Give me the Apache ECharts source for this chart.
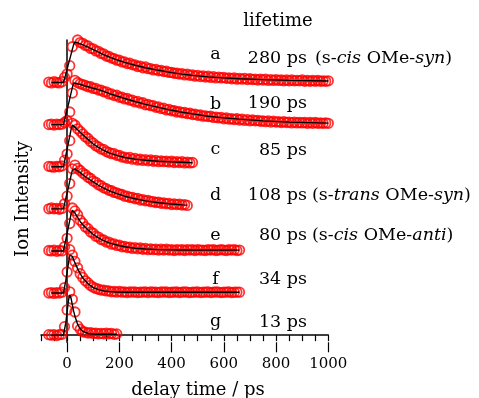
<!DOCTYPE html>
<html>
<head>
<meta charset="utf-8">
<script src="https://cdn.jsdelivr.net/npm/echarts@6/dist/echarts.min.js"></script>
<style>
  html, body { margin: 0; padding: 0; background: #fff; }
  #chart { width: 479px; height: 398px; }
</style>
</head>
<body>
<div id="chart"></div>
<script>
// delay times of the measured points (ps)
const T = [-70, -60, -50, -40, -30, -20, -10, 0, 10, 20,
  30, 40, 50, 60, 70, 80, 90, 100, 110, 120,
  130, 140, 150, 160, 170, 180, 190, 200, 210, 220,
  230, 240, 250, 260, 270, 280, 290, 300, 310, 320,
  330, 340, 350, 360, 370, 380, 390, 400, 410, 420,
  430, 440, 450, 460, 470, 480, 490, 500, 510, 520,
  530, 540, 550, 560, 570, 580, 590, 600, 610, 620,
  630, 640, 650, 660, 670, 680, 690, 700, 710, 720,
  730, 740, 750, 760, 770, 780, 790, 800, 810, 820,
  830, 840, 850, 860, 870, 880, 890, 900, 910, 920,
  930, 940, 950, 960, 970, 980, 990, 1000];

// delay times of the fit curves (ps)
const FT = [-60, -14, -5, 0, 5, 10, 15, 20, 25, 30, 40, 50, 60, 80, 100, 120, 140, 160,
  190, 220, 260, 300, 350, 400, 440, 460, 480, 540, 600, 660, 750, 850, 1000];

// normalized ion intensity, traces a..g
const dataA = [0.01, -0.01, 0.02, 0, -0.01, 0.02, 0.12, 0.2, 0.4, 0.85,
  1.04, 1.01, 0.95, 0.93, 0.88, 0.87, 0.81, 0.8, 0.75, 0.74,
  0.69, 0.68, 0.63, 0.62, 0.58, 0.57, 0.53, 0.53, 0.49, 0.49,
  0.45, 0.46, 0.42, 0.42, 0.38, 0.39, 0.35, 0.37, 0.33, 0.33,
  0.3, 0.31, 0.28, 0.29, 0.26, 0.27, 0.24, 0.24, 0.22, 0.22,
  0.2, 0.21, 0.18, 0.2, 0.17, 0.18, 0.15, 0.17, 0.14, 0.16,
  0.13, 0.15, 0.12, 0.14, 0.11, 0.13, 0.11, 0.12, 0.1, 0.11,
  0.09, 0.11, 0.08, 0.1, 0.08, 0.1, 0.07, 0.09, 0.07, 0.08,
  0.06, 0.08, 0.06, 0.08, 0.05, 0.07, 0.05, 0.07, 0.05, 0.06,
  0.04, 0.06, 0.04, 0.06, 0.04, 0.05, 0.04, 0.06, 0.03, 0.05,
  0.03, 0.05, 0.03, 0.05, 0.03, 0.04, 0.03, 0.04];
const dataB = [0, 0.01, -0.01, 0.01, 0, 0.01, 0.05, 0.1, 0.3, 0.75,
  1.05, 1.0, 0.97, 0.95, 0.93, 0.9, 0.9, 0.86, 0.86, 0.82,
  0.82, 0.78, 0.78, 0.73, 0.73, 0.69, 0.7, 0.65, 0.65, 0.61,
  0.62, 0.58, 0.58, 0.54, 0.55, 0.51, 0.52, 0.47, 0.48, 0.45,
  0.45, 0.41, 0.42, 0.38, 0.39, 0.35, 0.36, 0.33, 0.33, 0.3,
  0.31, 0.28, 0.29, 0.26, 0.27, 0.24, 0.25, 0.22, 0.23, 0.2,
  0.21, 0.19, 0.2, 0.17, 0.18, 0.16, 0.17, 0.14, 0.16, 0.13,
  0.14, 0.12, 0.14, 0.11, 0.13, 0.1, 0.12, 0.09, 0.11, 0.09,
  0.1, 0.08, 0.09, 0.07, 0.09, 0.06, 0.08, 0.06, 0.07, 0.05,
  0.07, 0.05, 0.06, 0.04, 0.06, 0.04, 0.05, 0.04, 0.05, 0.03,
  0.05, 0.03, 0.05, 0.03, 0.04, 0.03, 0.04, 0.03];
const dataC = [0.01, 0, -0.01, 0.01, 0, 0.02, 0.15, 0.3, 0.62, 1.03,
  0.99, 0.9, 0.84, 0.78, 0.71, 0.67, 0.6, 0.56, 0.5, 0.47,
  0.42, 0.41, 0.36, 0.34, 0.31, 0.31, 0.27, 0.27, 0.23, 0.23,
  0.2, 0.22, 0.18, 0.2, 0.16, 0.18, 0.15, 0.17, 0.14, 0.16,
  0.13, 0.15, 0.12, 0.14, 0.12, 0.13, 0.11, 0.13, 0.1, 0.12,
  0.1, 0.12, 0.09, 0.11, 0.09, 0.1];
const dataD = [0, 0.02, 0, 0.01, -0.01, 0.01, 0.12, 0.3, 0.6, 0.95,
  1.04, 0.96, 0.91, 0.85, 0.81, 0.75, 0.72, 0.66, 0.63, 0.57,
  0.55, 0.5, 0.48, 0.44, 0.43, 0.39, 0.38, 0.35, 0.34, 0.3,
  0.3, 0.27, 0.27, 0.24, 0.25, 0.21, 0.22, 0.19, 0.2, 0.17,
  0.17, 0.15, 0.16, 0.13, 0.14, 0.12, 0.13, 0.1, 0.12, 0.1,
  0.11, 0.09, 0.1, 0.08];
const dataE = [0.01, 0, 0.02, -0.01, 0.01, 0, 0.1, 0.3, 0.65, 1.02,
  0.95, 0.86, 0.73, 0.66, 0.57, 0.53, 0.45, 0.42, 0.35, 0.33,
  0.27, 0.26, 0.21, 0.21, 0.16, 0.17, 0.13, 0.14, 0.1, 0.11,
  0.08, 0.09, 0.06, 0.08, 0.05, 0.07, 0.04, 0.06, 0.03, 0.05,
  0.03, 0.04, 0.02, 0.04, 0.02, 0.04, 0.02, 0.03, 0.01, 0.03,
  0.02, 0.03, 0.01, 0.03, 0.02, 0.03, 0.01, 0.03, 0.02, 0.02,
  0.01, 0.03, 0.02, 0.03, 0.01, 0.02, 0.03, 0.02, 0.01, 0.03,
  0.02, 0.03, 0.01, 0.02];
const dataF = [0, 0.01, -0.01, 0.01, 0, 0.02, 0.13, 0.5, 1.03, 0.9,
  0.75, 0.6, 0.46, 0.37, 0.29, 0.24, 0.18, 0.14, 0.11, 0.09,
  0.07, 0.07, 0.05, 0.05, 0.03, 0.04, 0.02, 0.04, 0.02, 0.03,
  0.01, 0.03, 0.02, 0.03, 0.01, 0.02, 0.02, 0.03, 0.01, 0.03,
  0.02, 0.02, 0.01, 0.03, 0.02, 0.03, 0.01, 0.02, 0.02, 0.03,
  0.01, 0.02, 0.03, 0.02, 0.01, 0.02, 0.02, 0.03, 0.01, 0.02,
  0.02, 0.03, 0.01, 0.02, 0.03, 0.02, 0.01, 0.02, 0.02, 0.03,
  0.01, 0.02, 0.02, 0.02];
const dataG = [0.01, 0, 0.01, -0.01, 0.01, 0.02, 0.2, 0.6, 1.03, 0.85,
  0.55, 0.22, 0.14, 0.08, 0.07, 0.05, 0.06, 0.04, 0.05, 0.03,
  0.04, 0.03, 0.05, 0.03, 0.04, 0.02, 0.03];

// fit curves (values at FT)
const fitA = [0, 0, 0.2, 0.32, 0.44, 0.55, 0.67, 0.79, 0.9, 0.96, 0.945, 0.92, 0.895, 0.84, 0.78, 0.72,
  0.66, 0.61, 0.54, 0.48, 0.41, 0.35, 0.29, 0.235, 0.2, 0.185, 0.17, 0.135, 0.11, 0.09, 0.07, 0.051, 0.036];
const fitB = [0, 0, 0.23, 0.36, 0.48, 0.62, 0.75, 0.88, 0.99, 0.985, 0.97, 0.955, 0.935, 0.9, 0.865, 0.83,
  0.79, 0.74, 0.68, 0.62, 0.55, 0.48, 0.41, 0.34, 0.295, 0.275, 0.255, 0.2, 0.16, 0.13, 0.09, 0.06, 0.035];
const fitC = [0, 0, 0.27, 0.42, 0.57, 0.72, 0.88, 0.99, 0.97, 0.94, 0.88, 0.82, 0.76, 0.65, 0.54, 0.46,
  0.39, 0.33, 0.27, 0.22, 0.18, 0.155, 0.13, 0.115, 0.105, 0.1, 0.095];
const fitD = [0, 0, 0.25, 0.38, 0.51, 0.65, 0.79, 0.92, 0.96, 0.95, 0.9, 0.86, 0.81, 0.72, 0.64, 0.56,
  0.49, 0.43, 0.36, 0.3, 0.24, 0.19, 0.145, 0.115, 0.095, 0.088];
const fitE = [0, 0, 0.27, 0.42, 0.57, 0.72, 0.87, 0.97, 0.95, 0.9, 0.8, 0.7, 0.62, 0.5, 0.39, 0.31,
  0.245, 0.19, 0.14, 0.1, 0.065, 0.045, 0.032, 0.025, 0.022, 0.021, 0.02, 0.02, 0.02, 0.02];
const fitF = [0, 0, 0.3, 0.5, 0.7, 0.9, 0.93, 0.87, 0.79, 0.72, 0.58, 0.46, 0.36, 0.22, 0.13, 0.08,
  0.05, 0.035, 0.025, 0.02, 0.02, 0.02, 0.02, 0.02, 0.02, 0.02, 0.02, 0.02, 0.02, 0.02];
const fitG = [0, 0, 0.3, 0.55, 0.82, 0.95, 0.88, 0.72, 0.57, 0.45, 0.26, 0.15, 0.09, 0.04, 0.025, 0.02,
  0.02, 0.02, 0.02];

const traceLabels = ['a', 'b', 'c', 'd', 'e', 'f', 'g'];
const lifetimes = ['280 ps', '190 ps', '85 ps', '108 ps', '80 ps', '34 ps', '13 ps'];
// conformer notes: [prefix, italic, middle, italic]
const notes = [['s-', 'cis', ' OMe-', 'syn'], null, null, ['s-', 'trans', ' OMe-', 'syn'],
  ['s-', 'cis', ' OMe-', 'anti'], null, null];
const xLabels = [0, 200, 400, 600, 800, 1000];

const measured = [dataA, dataB, dataC, dataD, dataE, dataF, dataG];
const fits = [fitA, fitB, fitC, fitD, fitE, fitF, fitG];

const FONT = 'DejaVu Serif';
const LBL = '17.5px "DejaVu Serif"';
const NAME = '18px "DejaVu Serif"';
const chart = echarts.init(document.getElementById('chart'));

const series = [];
measured.forEach((vals, i) => {
  const off = 6 - i;
  series.push({
    type: 'scatter',
    data: vals.map((v, k) => [T[k], v + off]),
    symbol: 'circle',
    symbolSize: 9.5,
    itemStyle: { color: 'rgba(0,0,0,0)', borderColor: '#ff0000', borderWidth: 1.8 },
    silent: true,
    z: 2
  });
  series.push({
    type: 'line',
    data: fits[i].map((v, k) => [FT[k], v + off]),
    showSymbol: false,
    lineStyle: { color: '#000', width: 1.4 },
    silent: true,
    z: 3
  });
});

// text labels on the right
const letterY = [54, 104, 149.5, 195.5, 235.5, 279, 321];
const textY = [58.5, 103, 150, 195.5, 235.5, 279, 322];
const graphic = [
  { type: 'text', x: 278, y: 21, style: { text: 'lifetime', font: NAME, fill: '#000', align: 'center', verticalAlign: 'middle' } },
  { type: 'text', x: 23, y: 199, rotation: Math.PI / 2,
    style: { text: 'Ion Intensity', font: NAME, fill: '#000', align: 'center', verticalAlign: 'middle' } },
  { type: 'text', x: 198, y: 390,
    style: { text: 'delay time / ps', font: NAME, fill: '#000', align: 'center', verticalAlign: 'middle' } }
];
traceLabels.forEach((l, i) => {
  graphic.push({ type: 'text', x: 215.5, y: letterY[i],
    style: { text: l, font: LBL, fill: '#000', align: 'center', verticalAlign: 'middle' } });
  graphic.push({ type: 'text', x: 307, y: textY[i],
    style: { text: lifetimes[i], font: LBL, fill: '#000', align: 'right', verticalAlign: 'middle' } });
  const n = notes[i];
  if (n) {
    graphic.push({ type: 'text', x: i === 0 ? 315 : 312, y: textY[i],
      style: {
        text: '{n|(' + n[0] + '}{i|' + n[1] + '}{n|' + n[2] + '}{i|' + n[3] + '}{n|)}',
        fill: '#000', align: 'left', verticalAlign: 'middle',
        rich: {
          n: { fontFamily: FONT, fontSize: 17.5, fill: '#000' },
          i: { fontFamily: FONT, fontSize: 17.5, fontStyle: 'italic', fill: '#000' }
        }
      } });
  }
});

chart.setOption({
  animation: false,
  backgroundColor: '#fff',
  grid: { left: 41, top: 40, right: 150.7, bottom: 55.7 },
  xAxis: [
    {
      type: 'value', min: -100, max: 1000, interval: 50,
      axisLine: { lineStyle: { color: '#000', width: 1.5 } },
      axisTick: { length: 6, lineStyle: { color: '#000', width: 1.2 } },
      axisLabel: {
        customValues: xLabels, fontFamily: FONT, fontSize: 15, color: '#000', margin: 14,
        formatter: v => String(v)
      },
      splitLine: { show: false }
    },
    {
      type: 'value', min: -100, max: 1000, position: 'bottom',
      axisLine: { show: false },
      axisTick: { customValues: xLabels, length: 10, lineStyle: { color: '#000', width: 1.2 } },
      axisLabel: { show: false },
      splitLine: { show: false }
    }
  ],
  yAxis: {
    type: 'value', min: -0.17, max: 7.01,
    axisLine: { show: true, lineStyle: { color: '#000', width: 1.5 } },
    axisTick: { show: false },
    axisLabel: { show: false },
    splitLine: { show: false }
  },
  graphic: graphic,
  series: series
});
</script>
</body>
</html>
